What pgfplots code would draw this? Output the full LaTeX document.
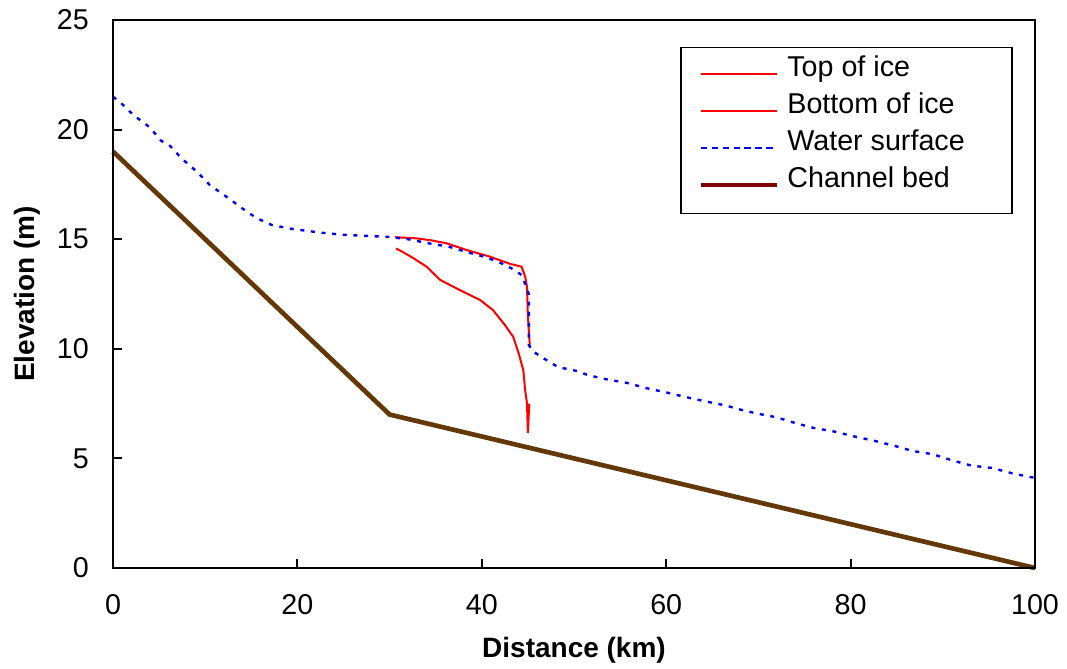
\documentclass[border=0pt]{standalone}
\usepackage{pgfplots}
\pgfplotsset{compat=1.18}
\usepackage{fontspec}
\setmainfont{Liberation Sans}
\definecolor{bedbrown}{RGB}{100,56,6}
\definecolor{bedmaroon}{RGB}{128,0,0}
\begin{document}
\begin{tikzpicture}
\begin{axis}[
  name=ax,
  scale only axis, width=691.5pt, height=411pt,
  xmin=0, xmax=100, ymin=0, ymax=25,
  xtick={0,20,...,100}, ytick={0,5,...,25},
  tick align=inside, tick pos=left,
  major tick length=6.75pt,
  axis line style={line width=1.5pt},
  tick style={line width=1.5pt, black},
  clip=false,
  /pgf/number format/assume math mode=true,
  ticklabel style={font=\fontsize{21.5}{25}\selectfont, inner sep=0pt},
  yticklabel style={anchor=east, xshift=-18pt},
  xticklabel style={anchor=north, yshift=-20pt},
  xlabel={\textbf{Distance (km)}},
  ylabel={\textbf{Elevation (m)}},
  label style={font=\fontsize{21}{25}\selectfont},
  xlabel style={at={(axis description cs:0.5,0)}, anchor=base, yshift=-66.75pt, inner sep=0pt},
  ylabel style={at={(axis description cs:0,0.5)}, anchor=base, yshift=58.5pt, inner sep=0pt},
  legend style={at={(0.976,0.951)}, anchor=north east, draw=black, line width=1.2pt,
    font=\fontsize{21.5}{25}\selectfont, inner xsep=13.5pt, inner ysep=4pt, row sep=-5.3pt, column sep=4.5pt,
    cells={anchor=base west},
    nodes={inner sep=2pt, text depth=13.5pt}},
  legend image code/.code={\draw[#1] (0pt,2pt) -- (57pt,2pt);},
]
% Top of ice
\addplot[red, line width=1.5pt] coordinates {
(30.6,15.09)(32.9,15.04)(34.5,14.95)(36.2,14.81)(38.4,14.5)(40.9,14.2)(43.1,13.87)(44.3,13.75)(44.7,13.3)(44.9,12.83)(45.0,11.5)(45.2,10.17)
};
\addlegendentry{Top of ice}
% Bottom of ice
\addplot[red, line width=1.5pt] coordinates {
(30.7,14.58)(31.5,14.4)(32.6,14.13)(34.0,13.75)(35.5,13.14)(37.6,12.68)(39.8,12.23)(41.2,11.77)(42.5,11.09)(43.4,10.55)(44.0,9.79)(44.5,9.03)(44.7,8.12)(44.9,7.51)(45.0,6.15)(45.15,7.5)
};
\addlegendentry{Bottom of ice}
% Water surface
\addplot[blue, line width=1.8pt, dash pattern=on 3pt off 5pt, forget plot] coordinates {
(0,21.5)(0.9,21.2)(2.2,20.67)(4.0,20.1)(5.2,19.5)(6.2,19.25)(7.5,18.66)(9.1,18.08)(10.5,17.47)(12.9,16.76)(13.8,16.47)(15.5,15.98)(17.2,15.65)(19.4,15.47)(22.5,15.3)(25,15.2)(27.5,15.15)(29.7,15.11)(32,15.0)(34.4,14.8)(36.4,14.66)(38.5,14.4)(40.5,14.17)(42.3,13.87)(43.4,13.63)(44.3,13.37)(44.8,12.86)(45.1,12.5)(45.1,10.17)(45.6,9.87)(46.6,9.59)(48.3,9.16)(50.3,8.99)(51.5,8.8)(53.5,8.61)(55.7,8.45)(57.9,8.2)(60,8.01)(62.2,7.79)(64.4,7.59)(66.5,7.41)(67.8,7.25)(69.7,7.06)(72,6.87)(74.1,6.6)(76,6.39)(78.3,6.22)(80.5,5.99)(82.5,5.81)(84.8,5.57)(86.7,5.34)(88.9,5.19)(91.1,4.9)(93.1,4.67)(95.4,4.56)(97.5,4.32)(99.6,4.14)(100,4.12)
};
\addlegendimage{blue, line width=1.3pt, dash pattern=on 5pt off 3.2pt}
\addlegendentry{Water surface\kern20pt}
% Channel bed
\addplot[bedbrown, line width=3.5pt, forget plot] coordinates {
(0,19)(30,7)(100,0)
};
\addlegendimage{bedmaroon, line width=3pt}
\addlegendentry{Channel bed}
\draw[line width=1.5pt, black] (rel axis cs:0,0) rectangle (rel axis cs:1,1);
\end{axis}
\pgfresetboundingbox
\path ([shift={(-84.75pt,-75pt)}]ax.south west) rectangle ([shift={(24pt,15pt)}]ax.north east);
\end{tikzpicture}
\end{document}
